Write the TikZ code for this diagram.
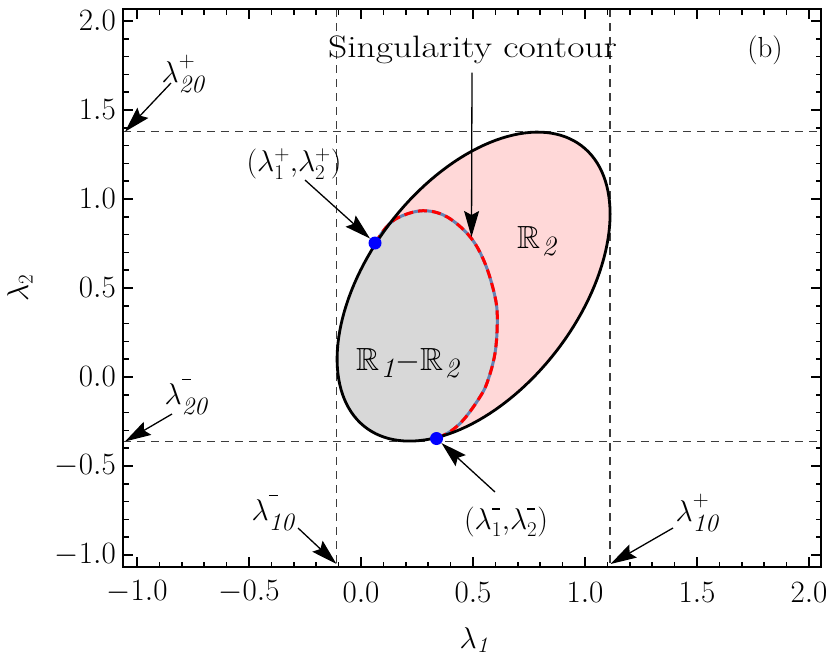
\RequirePackage{fix-cm}
\documentclass[tikz,border=0pt]{standalone}
\usepackage{amssymb}
\usetikzlibrary{arrows.meta}
\definecolor{pinkfill}{RGB}{255,216,216}
\definecolor{greyfill}{RGB}{216,216,216}
\definecolor{gridgray}{RGB}{60,60,60}
\definecolor{contourblue}{RGB}{100,130,180}
\tikzset{
  frame/.style={line width=2.6pt},
  tickmark/.style={line width=1.6pt},
  gridline/.style={gridgray, line width=1.5pt, dash pattern=on 8pt off 6pt},
  arr/.style={line width=1.3pt, -{Stealth[length=26pt,width=15pt,inset=4pt]}},
  ticklab/.style={inner sep=0pt, font=\fontsize{31}{36}\selectfont},
  lab/.style={inner sep=0pt, font=\fontsize{30}{36}\selectfont},
  bluedot/.style={circle, fill=blue, inner sep=0pt, minimum size=13pt},
  outerline/.style={line width=2.8pt},
  contourline/.style={line width=3pt}
}
\newcommand{\bsub}[1]{\mbox{\fontsize{25}{25}\selectfont\itshape #1}}
\newcommand{\bplus}{\mbox{\raisebox{4pt}{\fontsize{22}{22}\selectfont +}}}
\newcommand{\bminus}{\mbox{\rule[13pt]{9pt}{1.6pt}}}
\newcommand{\splus}{\mbox{\raisebox{1pt}{\fontsize{21}{21}\selectfont +}}}
\newcommand{\sminus}{\mbox{\rule[9pt]{8pt}{1.5pt}}}
\newcommand{\Rsub}[1]{\mathbb{R}_{\kern1.5pt\mbox{\fontsize{28}{28}\selectfont\itshape #1}}}
\begin{document}
\begin{tikzpicture}[x=1pt,y=-1pt]
\useasboundingbox (0,0) rectangle (830,662);

% dashed tangent lines
\draw[gridline] (123,131.7) -- (821,131.7);
\draw[gridline] (123,441.5) -- (821,441.5);
\draw[gridline] (336.5,9) -- (336.5,567);
\draw[gridline] (610,9) -- (610,567);

% regions
\fill[pinkfill] plot[domain=0:360,samples=144] ({473.6+136.5*cos(\x)},{286.6-154.5*cos(\x-62)}) -- cycle;
\fill[greyfill] plot[domain=136.2:254.5,samples=60] ({473.6+136.5*cos(\x)},{286.6-154.5*cos(\x-62)})
  -- plot[smooth,tension=0.6] coordinates {(436.7,438.3) (450,431.7) (463.3,420) (478,400) (487,383) (495,353.3) (497.3,320) (495,296.7) (485,263.3) (470,236.7) (446.7,216.7) (423.3,210.7) (400,216.7) (386.7,226.7) (375,243.3)} -- cycle;

% singularity contour
\draw[contourline, contourblue] plot[smooth,tension=0.6] coordinates {(375,243.3) (386.7,226.7) (400,216.7) (423.3,210.7) (446.7,216.7) (470,236.7) (485,263.3) (495,296.7) (497.3,320) (495,353.3) (487,383) (478,400) (463.3,420) (450,431.7) (436.7,438.3)};
\draw[contourline, red, dash pattern=on 9pt off 5pt] plot[smooth,tension=0.6] coordinates {(375,243.3) (386.7,226.7) (400,216.7) (423.3,210.7) (446.7,216.7) (470,236.7) (485,263.3) (495,296.7) (497.3,320) (495,353.3) (487,383) (478,400) (463.3,420) (450,431.7) (436.7,438.3)};

% outer ellipse
\draw[outerline] plot[domain=0:360,samples=144] ({473.6+136.5*cos(\x)},{286.6-154.5*cos(\x-62)}) -- cycle;

% frame and ticks
\draw[frame] (123,9) rectangle (821,567);
\foreach \i in {-10,...,20}{
  \pgfmathsetmacro\px{361+22.4*\i}
  \pgfmathsetmacro\py{377-17.8*\i}
  \pgfmathtruncatemacro\m{mod(abs(\i),5)}
  \ifnum\m=0 \def\L{10}\else\def\L{5.5}\fi
  \draw[tickmark] (\px,567) -- ++(0,-\L);
  \draw[tickmark] (\px,9) -- ++(0,\L);
  \draw[tickmark] (123,\py) -- ++(\L,0);
  \draw[tickmark] (821,\py) -- ++(-\L,0);
}
\foreach \i/\t [count=\c] in {-2/-1.0,-1/-0.5,0/0.0,1/0.5,2/1.0,3/1.5,4/2.0}{
  \node[ticklab] (xt\c) at ({361+112*\i},592) {$\t$};
  \node[ticklab, anchor=east] (yt\c) at (116,{377-89*\i}) {$\t$};
}

% axis labels
\node[lab] (xlab) at (474,640) {$\lambda_{\mbox{\fontsize{22}{22}\selectfont\itshape 1}}$};
\node[lab, rotate=90] (ylab) at (20,288) {$\lambda_{2}$};

% points
\node[bluedot] (pplus) at (375,243) {};
\node[bluedot] (pminus) at (436.5,438.5) {};

% region labels
\node[lab, font=\fontsize{32}{36}\selectfont, anchor=base west] (r2) at (517,248) {$\Rsub{2}$};
\node[lab, font=\fontsize{32}{36}\selectfont, anchor=base west] (r12) at (356,370) {$\Rsub{1}{-}\Rsub{2}$};

% annotations
\node[inner sep=0pt, font=\fontsize{31}{36}\selectfont, xscale=1.21, anchor=base] (sing) at (472.5,57) {Singularity contour};
\node[inner sep=0pt, font=\fontsize{29}{36}\selectfont] (blabel) at (765,50) {(b)};

\node[lab] (l20p) at (183,74) {$\lambda_{\bsub{20}}^{\bplus}$};
\node[lab] (l20m) at (186,397) {$\lambda_{\bsub{20}}^{\bminus}$};
\node[lab] (l10m) at (273,513) {$\lambda_{\bsub{10}}^{\bminus}$};
\node[lab] (l10p) at (697,513) {$\lambda_{\bsub{10}}^{\bplus}$};
\node[lab] (lpp) at (294,164) {$(\lambda_1^{\splus}{,}\lambda_2^{\splus})$};
\node[lab] (lmm) at (506,522) {$(\lambda_1^{\sminus}{,}\lambda_2^{\sminus})$};

\coordinate (s20p) at (171,83);   \coordinate (t20p) at (125,131.7);
\coordinate (s20m) at (172,414);  \coordinate (t20m) at (125,441.5);
\coordinate (s10m) at (298,528);  \coordinate (t10m) at (336.5,564);
\coordinate (s10p) at (673,528);  \coordinate (t10p) at (610.5,564);
\coordinate (spp) at (305,180);
\coordinate (smm) at (495,492);
\coordinate (ssing) at (472,72.5); \coordinate (tsing) at (471.5,237);

\draw[arr] (s20p) -- (t20p);
\draw[arr] (s20m) -- (t20m);
\draw[arr] (s10m) -- (t10m);
\draw[arr] (s10p) -- (t10p);
\draw[arr] (spp) -- (pplus);
\draw[arr] (smm) -- (pminus);
\draw[arr] (ssing) -- (tsing);
\end{tikzpicture}
\end{document}
